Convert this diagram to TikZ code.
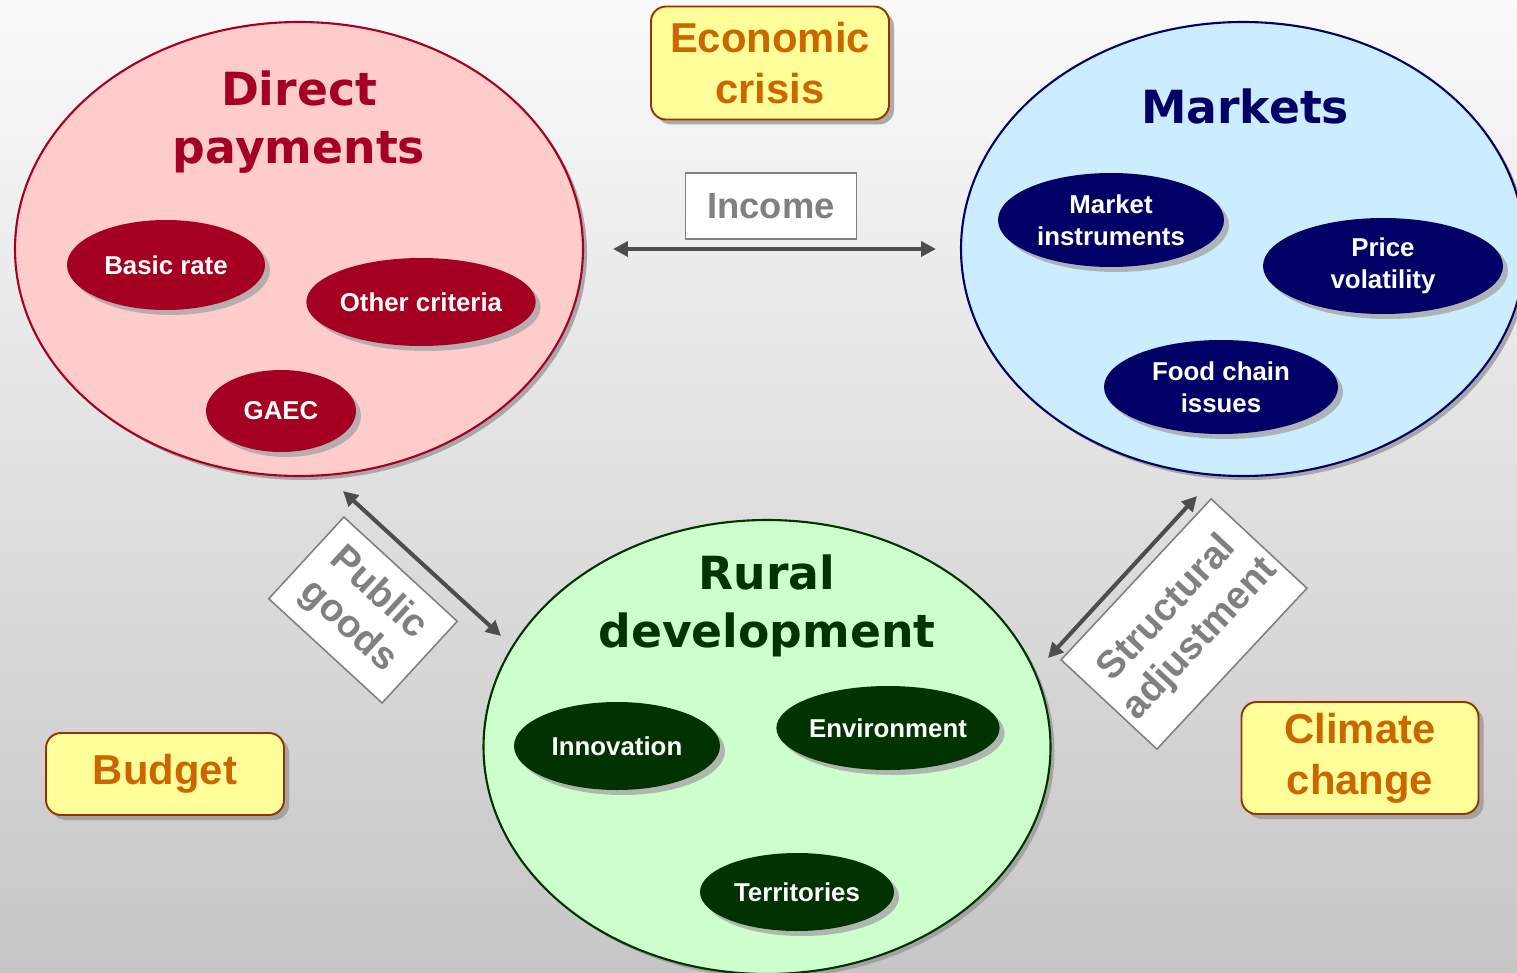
\documentclass[tikz,border=0pt]{standalone}
\usepackage{fontspec}
\setmainfont{Liberation Sans}
\newfontfamily\titlefont{DejaVu Sans}
\usetikzlibrary{shapes.geometric,shadows,arrows.meta}
\definecolor{dred}{HTML}{A50021}
\definecolor{pinkf}{HTML}{FFCCCC}
\definecolor{navy}{HTML}{000066}
\definecolor{bluef}{HTML}{CCECFF}
\definecolor{dgreen}{HTML}{003300}
\definecolor{greenf}{HTML}{CCFFCC}
\definecolor{yellf}{HTML}{FFFF99}
\definecolor{orangetxt}{HTML}{CC6600}
\definecolor{boxbrd}{HTML}{993300}
\definecolor{greytxt}{HTML}{808080}
\definecolor{arrcol}{HTML}{4D4D4D}
\definecolor{bgtop}{HTML}{FAFAFA}
\definecolor{bgbot}{HTML}{C6C6C6}
\newcommand\pxu{0.02cm}
\begin{document}
\begin{tikzpicture}[x=0.02cm,y=-0.02cm,
  bigell/.style={ellipse, inner sep=0pt, line width=1.2pt,
    drop shadow={shadow xshift=0.08cm, shadow yshift=-0.08cm, fill=black!40, opacity=0.8}},
  inell/.style={ellipse, inner sep=0pt, text=white, align=center,
    font=\fontsize{14.7}{18.2}\selectfont\bfseries,
    drop shadow={shadow xshift=0.1cm, shadow yshift=-0.1cm, fill=black!35, opacity=0.8}},
  titletxt/.style={align=center, font=\fontsize{26}{33}\selectfont\titlefont\bfseries},
  ybox/.style={rounded corners=0.3cm, fill=yellf, draw=boxbrd, line width=1.1pt,
    text=orangetxt, align=center, font=\fontsize{23.8}{29}\selectfont\bfseries,
    drop shadow={shadow xshift=0.1cm, shadow yshift=-0.1cm, fill=black!40, opacity=0.8}},
  wbox/.style={fill=white, draw=greytxt, line width=0.9pt, text=greytxt, align=center,
    inner sep=0pt},
  arr/.style={draw=arrcol, line width=2.3pt,
    {Triangle[length=8.5pt,width=8.5pt]}-{Triangle[length=8.5pt,width=8.5pt]}}
]
\useasboundingbox (0,0) rectangle (1517,973);
\shade[top color=bgtop, bottom color=bgbot] (0,0) rectangle (1517,973);

% big ellipses
\node[bigell, fill=pinkf, draw=dred, minimum width=568*\pxu, minimum height=454*\pxu] (dp) at (299,249) {};
\node[bigell, fill=bluef, draw=navy, minimum width=564*\pxu, minimum height=454*\pxu] (mk) at (1243,249) {};
\node[bigell, fill=greenf, draw=dgreen, minimum width=567*\pxu, minimum height=454*\pxu] (rd) at (767,747) {};

% titles
\node[titletxt, text=dred] (dpt) at (299,122) {Direct\\payments};
\node[titletxt, text=navy] (mkt) at (1245,106) {Markets};
\node[titletxt, text=dgreen] (rdt) at (767,606) {Rural\\development};

% inner ellipses
\node[inell, fill=dred, minimum width=198*\pxu, minimum height=90*\pxu] (br) at (166,265) {Basic rate};
\node[inell, fill=dred, minimum width=224*\pxu, minimum height=88*\pxu] (oc) at (421,302) {Other criteria};
\node[inell, fill=dred, minimum width=150*\pxu, minimum height=82*\pxu] (gaec) at (281,411) {GAEC};

\node[inell, fill=navy, minimum width=226*\pxu, minimum height=94*\pxu] (mi) at (1111,220) {Market\\instruments};
\node[inell, fill=navy, minimum width=240*\pxu, minimum height=96*\pxu] (pv) at (1383,266) {Price\\volatility};
\node[inell, fill=navy, minimum width=234*\pxu, minimum height=94*\pxu] (fc) at (1221,387) {Food chain\\issues};

\node[inell, fill=dgreen, minimum width=206*\pxu, minimum height=88*\pxu] (inn) at (617,746) {Innovation};
\node[inell, fill=dgreen, minimum width=204*\pxu, minimum height=84*\pxu] (env) at (888,728) {Environment};
\node[inell, fill=dgreen, minimum width=194*\pxu, minimum height=78*\pxu] (ter) at (797,892) {Territories};

% yellow boxes
\node[ybox, minimum width=238*\pxu, minimum height=113*\pxu] (ec) at (770,63) {Economic\\crisis};
\node[ybox, minimum width=238*\pxu, minimum height=82*\pxu] (bud) at (165,774) {Budget};
\node[ybox, minimum width=237*\pxu, minimum height=112*\pxu] (cc) at (1360,758) {Climate\\change};

% white label boxes
\node[wbox, minimum width=171*\pxu, minimum height=66*\pxu, font=\fontsize{20.7}{25}\selectfont\bfseries] (inc) at (771,206) {Income};
\node[wbox, minimum width=154*\pxu, minimum height=111*\pxu, rotate=-42.6, font=\fontsize{22}{25}\selectfont\bfseries] (pg) at (363,610) {Public\\goods};
\node[wbox, minimum width=220*\pxu, minimum height=131*\pxu, rotate=47, font=\fontsize{22}{25.5}\selectfont\bfseries] (sa) at (1184,624) {Structural\\adjustment};

% arrows
\coordinate (pgA) at (343,491);
\coordinate (pgB) at (501,636);
\coordinate (saA) at (1197,496);
\coordinate (saB) at (1048,658);
\draw[arr, shorten <=29*\pxu, shorten >=24*\pxu] (dp.east) -- (mk.west);
\draw[arr] (pgA) -- (pgB);
\draw[arr] (saA) -- (saB);
\end{tikzpicture}
\end{document}
